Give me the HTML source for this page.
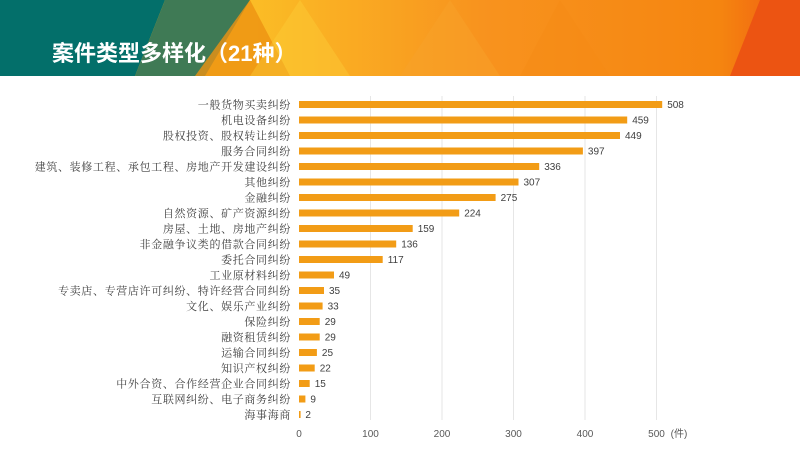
<!DOCTYPE html><html><head><meta charset="utf-8"><style>
body{margin:0;width:800px;height:450px;background:#fff;overflow:hidden;font-family:"Liberation Sans","Noto Sans CJK SC",sans-serif}
</style></head><body>
<svg width="800" height="450" xmlns="http://www.w3.org/2000/svg" font-family="Liberation Sans, Noto Sans CJK SC, sans-serif">
<defs><linearGradient id="g" x1="0" x2="1" y1="0" y2="0">
<stop offset="0" stop-color="#f7a81a"/><stop offset="0.3" stop-color="#fbbf26"/><stop offset="0.6" stop-color="#f8931e"/><stop offset="0.9" stop-color="#f58510"/><stop offset="1" stop-color="#ef5a12"/></linearGradient></defs>
<rect x="0" y="0" width="800" height="76" fill="url(#g)"/>
<polygon points="0,0 165,0 135,76 0,76" fill="#036f6a"/>
<polygon points="165,0 250,0 205,76 135,76" fill="#3f7a55"/>
<polygon points="250,0 195,76 290,76" fill="#ee9212" opacity="0.8"/>
<polygon points="300,0 250,76 350,76" fill="#fdd03a" opacity="0.4"/>
<polygon points="450,0 400,76 500,76" fill="#f7a22a" opacity="0.5"/>
<polygon points="560,0 520,76 610,76" fill="#f48a14" opacity="0.4"/>
<polygon points="760,0 800,0 800,76 730,76" fill="#ec5412"/>
<text x="52" y="61" fill="#fff" font-size="22" font-weight="bold">案件类型多样化（21种）</text>
<g stroke="#e6e6e6" stroke-width="1">
<line x1="370.5" y1="96" x2="370.5" y2="420"/><line x1="442" y1="96" x2="442" y2="420"/><line x1="513.5" y1="96" x2="513.5" y2="420"/><line x1="585" y1="96" x2="585" y2="420"/><line x1="656.5" y1="96" x2="656.5" y2="420"/>
</g>
<g font-size="10" fill="#595959" text-anchor="middle">
<text x="299" y="437">0</text><text x="370.5" y="437">100</text><text x="442" y="437">200</text><text x="513.5" y="437">300</text><text x="585" y="437">400</text><text x="656.5" y="437">500</text><text x="679" y="437">(件)</text>
</g>
<g fill="#f29c16">
<rect x="299" y="101" width="363.2" height="7"/>
<rect x="299" y="116.5" width="328.2" height="7"/>
<rect x="299" y="132" width="321" height="7"/>
<rect x="299" y="147.5" width="283.9" height="7"/>
<rect x="299" y="163" width="240.2" height="7"/>
<rect x="299" y="178.5" width="219.5" height="7"/>
<rect x="299" y="194" width="196.6" height="7"/>
<rect x="299" y="209.5" width="160.2" height="7"/>
<rect x="299" y="225" width="113.7" height="7"/>
<rect x="299" y="240.5" width="97.2" height="7"/>
<rect x="299" y="256" width="83.7" height="7"/>
<rect x="299" y="271.5" width="35" height="7"/>
<rect x="299" y="287" width="25" height="7"/>
<rect x="299" y="302.5" width="23.6" height="7"/>
<rect x="299" y="318" width="20.7" height="7"/>
<rect x="299" y="333.5" width="20.7" height="7"/>
<rect x="299" y="349" width="17.9" height="7"/>
<rect x="299" y="364.5" width="15.7" height="7"/>
<rect x="299" y="380" width="10.7" height="7"/>
<rect x="299" y="395.5" width="6.4" height="7"/>
<rect x="299" y="411" width="1.6" height="7"/>
</g>
<g font-size="11" fill="#404040" text-anchor="end" font-family="Liberation Serif, Noto Serif CJK SC, serif" letter-spacing="0.65">
<text x="291" y="108.5">一般货物买卖纠纷</text>
<text x="291" y="124">机电设备纠纷</text>
<text x="291" y="139.5">股权投资、股权转让纠纷</text>
<text x="291" y="155">服务合同纠纷</text>
<text x="291" y="170.5">建筑、装修工程、承包工程、房地产开发建设纠纷</text>
<text x="291" y="186">其他纠纷</text>
<text x="291" y="201.5">金融纠纷</text>
<text x="291" y="217">自然资源、矿产资源纠纷</text>
<text x="291" y="232.5">房屋、土地、房地产纠纷</text>
<text x="291" y="248">非金融争议类的借款合同纠纷</text>
<text x="291" y="263.5">委托合同纠纷</text>
<text x="291" y="279">工业原材料纠纷</text>
<text x="291" y="294.5">专卖店、专营店许可纠纷、特许经营合同纠纷</text>
<text x="291" y="310">文化、娱乐产业纠纷</text>
<text x="291" y="325.5">保险纠纷</text>
<text x="291" y="341">融资租赁纠纷</text>
<text x="291" y="356.5">运输合同纠纷</text>
<text x="291" y="372">知识产权纠纷</text>
<text x="291" y="387.5">中外合资、合作经营企业合同纠纷</text>
<text x="291" y="403">互联网纠纷、电子商务纠纷</text>
<text x="291" y="418.5">海事海商</text>
</g>
<g font-size="10" fill="#404040">
<text x="667.2" y="108">508</text>
<text x="632.2" y="123.5">459</text>
<text x="625" y="139">449</text>
<text x="587.9" y="154.5">397</text>
<text x="544.2" y="170">336</text>
<text x="523.5" y="185.5">307</text>
<text x="500.6" y="201">275</text>
<text x="464.2" y="216.5">224</text>
<text x="417.7" y="232">159</text>
<text x="401.2" y="247.5">136</text>
<text x="387.7" y="263">117</text>
<text x="339" y="278.5">49</text>
<text x="329" y="294">35</text>
<text x="327.6" y="309.5">33</text>
<text x="324.7" y="325">29</text>
<text x="324.7" y="340.5">29</text>
<text x="321.9" y="356">25</text>
<text x="319.7" y="371.5">22</text>
<text x="314.7" y="387">15</text>
<text x="310.4" y="402.5">9</text>
<text x="305.4" y="418">2</text>
</g>
</svg>
</body></html>
